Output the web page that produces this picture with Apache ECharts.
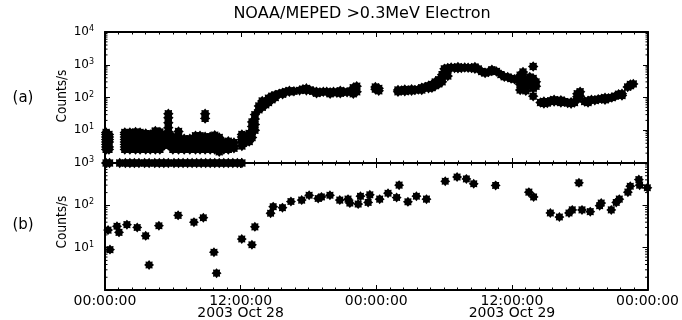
<!DOCTYPE html>
<html><head><meta charset="utf-8">
<script src="https://cdn.jsdelivr.net/npm/echarts@6/dist/echarts.min.js"></script>
<style>html,body{margin:0;padding:0;background:#fff}#c{width:682px;height:320px}</style>
</head><body><div id="c"></div>
<script>
// ---------------- data ----------------
const TITLE = 'NOAA/MEPED >0.3MeV Electron';
const PANEL_LABELS = ['(a)', '(b)'];
const Y_NAME = 'Counts/s';
const xTickHours = [0, 12, 24, 36, 48];
const xTickLabels = ['00:00:00', '12:00:00\n2003 Oct 28', '00:00:00', '12:00:00\n2003 Oct 29', '00:00:00'];

// Panel (a): quiet interval, columns of quantised count rates (hours since 2003-10-28 00:00)
const aQuietTimes = [0.1, 0.35, 1.75, 2.2, 2.7, 3.1, 3.6, 4.0, 4.45, 4.85, 5.25, 5.6, 6.0, 6.5, 7.0, 7.5, 8.0, 8.4, 8.85, 9.3, 9.7, 10.1, 10.5, 10.9, 11.4, 12.1, 12.5];
const aQuietValues = [
  [2.6, 3.1, 3.7, 4.4, 5.2, 6.2, 7.4, 8.5],
  [2.6, 3.1, 4.4, 5.2, 6.2, 7.4],
  [2.6, 3.1, 3.7, 4.4, 5.2, 6.2, 7.4, 8.5],
  [2.6, 3.1, 3.7, 4.4, 5.2, 6.2, 7.4, 8.5],
  [2.6, 3.1, 3.7, 4.4, 5.2, 6.2, 7.4, 8.9],
  [2.6, 3.1, 3.7, 4.4, 5.2, 6.2, 7.4, 8.5],
  [2.6, 3.1, 3.7, 4.4, 5.2, 6.2, 7.4, 7.9],
  [2.6, 3.1, 3.7, 4.4, 5.2, 6.2, 7.4],
  [2.6, 3.1, 3.7, 4.4, 5.2, 6.2, 7.4, 8.8, 9.5],
  [2.6, 3.1, 3.7, 4.4, 5.2, 6.2, 7.4, 8.8],
  [3.5, 4.4, 5.2, 6.2, 7.0],
  [3.5, 4.4, 5.2, 6.2, 7.0, 9, 12, 17, 24, 32],
  [2.6, 3.1, 3.7, 4.4, 5.2, 6.3],
  [2.6, 3.1, 3.7, 4.4, 5.2, 6.3, 9.2],
  [2.6, 3.1, 3.7, 4.4, 5.5],
  [2.6, 3.1, 3.7, 4.4, 5.5],
  [2.6, 3.1, 3.7, 4.4, 5.2, 6.8],
  [2.6, 3.1, 3.7, 4.4, 5.2, 6.8],
  [2.6, 3.1, 3.7, 4.4, 5.2, 6.3, 23, 32],
  [2.6, 3.1, 3.7, 4.4, 5.2, 6.3],
  [2.6, 3.1, 3.7, 4.4, 5.2, 6.2, 7.0],
  [2.2, 2.6, 3.1, 3.7, 4.4, 5.2, 6.0],
  [2.6, 3.1, 3.7, 4.2],
  [2.6, 3.1, 3.7, 4.6],
  [2.8, 3.3, 4.2],
  [3.3, 4.4, 5.2, 6.2, 7.4],
  [4.4, 5.2, 6.6]
];
// Panel (a): readings sitting at the 1 count/s floor
const aFloorTimes = [0.1, 0.4, 1.3, 1.8, 2.2, 2.6, 3.0, 3.5, 3.9, 4.4, 4.8, 5.2, 5.6, 6.1, 6.5, 6.9, 7.3, 7.7, 8.1, 8.5, 8.9, 9.3, 9.7, 10.1, 10.5, 10.9, 11.3, 11.7, 12.1];
const aFloorValue = 1;
// Panel (a): active interval
const aActiveTimes = [12.75, 13.0, 13.25, 13.6, 13.9, 14.2, 14.45, 14.75, 15.05, 15.4, 15.7, 16.0, 16.3, 16.7, 17.2, 17.5, 17.8, 18.1, 18.4, 18.7, 19.0, 19.3, 19.6, 19.9, 20.2, 20.5, 20.8, 21.1, 21.4, 21.7, 21.95, 22.25, 23.9, 24.2, 25.9, 26.2, 26.5, 26.8, 27.1, 27.4, 27.7, 28.0, 28.3, 28.6, 28.9, 29.2, 29.5, 29.8, 30.0, 30.3, 30.6, 30.9, 31.2, 31.5, 31.8, 32.1, 32.4, 32.7, 33.0, 33.3, 33.6, 33.9, 34.2, 34.6, 35.0, 35.3, 35.6, 35.9, 36.2, 36.5, 36.7, 36.95, 37.2, 37.55, 37.85, 38.1, 38.5, 38.8, 39.1, 39.4, 39.7, 40.0, 40.3, 40.6, 40.9, 41.2, 41.5, 41.75, 42.0, 42.4, 42.7, 43.0, 43.3, 43.6, 43.9, 44.2, 44.5, 44.8, 45.1, 45.4, 45.7, 46.2, 46.45, 46.7];
const aActiveValues = [
  [4.5, 6, 8], [6, 9, 13, 18], [10, 15, 22, 30], [42, 55], [50, 65, 78], [60, 75],
  [70, 95], [85, 110], [100, 120], [130], [140, 125], [150], [150, 160], [155],
  [165], [180], [190, 165], [170], [155], [150, 135], [145], [150], [150], [145, 130],
  [150], [140], [160, 135], [150], [145], [155], [200, 160, 130], [220, 150],
  [180, 210], [190, 160],
  [170, 150], [165], [175, 155], [165], [160, 180], [170], [175], [200, 170], [210], [230, 190],
  [250, 200], [300, 230], [350, 260], [300, 400, 500], [600, 750], [800, 700, 450], [820],
  [800], [780, 850], [800], [830], [810], [790], [760, 850], [740], [620], [560], [600],
  [650, 700], [620], [500], [430], [420], [380], [360], [340],
  [170, 250, 350, 480], [200, 300, 420, 600], [160, 220, 280], [250, 330, 420],
  [880, 380, 280, 190, 110], [300, 220],
  [70], [66, 75], [68], [80], [75, 85], [78], [70, 82], [75], [68], [65, 72], [70],
  [130, 105, 90], [150, 110], [75], [80, 70], [85], [82], [88], [92], [98, 85], [95], [100],
  [110], [125], [130, 115], [210], [250, 230], [260]
];

// Panel (b)
const bTimes = [0.27, 0.44, 1.06, 1.24, 1.94, 2.85, 3.6, 3.9, 4.77, 6.47, 7.87, 8.7, 9.64, 9.87, 12.1, 13.0, 13.26, 14.65, 14.88, 15.7, 16.45, 17.4, 18.06, 18.86, 19.15, 19.9, 20.77, 21.5, 21.66, 22.4, 22.6, 23.28, 23.43, 24.3, 25.04, 25.8, 26.02, 26.8, 27.55, 28.44, 30.1, 31.15, 31.97, 32.62, 34.56, 37.5, 37.92, 39.4, 40.2, 41.05, 41.34, 41.93, 42.2, 42.93, 43.76, 43.9, 44.79, 45.23, 45.5, 46.26, 46.47, 47.23, 47.3, 47.98];
const bValues = [26, 9, 32, 23, 35, 30, 19, 3.9, 33, 58, 40, 51, 7.8, 2.5, 16, 11.7, 31, 65, 93, 88, 123, 133, 173, 145, 158, 173, 133, 140, 113, 107, 164, 117, 177, 140, 193, 153, 300, 121, 164, 140, 370, 467, 420, 323, 295, 205, 158, 66, 53, 66, 78, 340, 78, 71, 98, 113, 78, 117, 140, 205, 283, 405, 300, 260];

// ---------------- build ----------------
const FONT = '"DejaVu Sans", "Liberation Sans", sans-serif';
let starPath = '';
for (let k = 0; k < 16; k++) {
  const a = (k * 22.5 - 90) * Math.PI / 180, r = k % 2 === 0 ? 10 : 7.2;
  starPath += (k === 0 ? 'M' : 'L') + (10 + r * Math.cos(a)).toFixed(2) + ' ' + (10 + r * Math.sin(a)).toFixed(2) + ' ';
}
starPath += 'Z';
const STAR = 'path://' + starPath;

const aData = [];
aFloorTimes.forEach(t => aData.push([t, aFloorValue]));
aQuietTimes.forEach((t, i) => aQuietValues[i].forEach(v => aData.push([t, v])));
aActiveTimes.forEach((t, i) => aActiveValues[i].forEach(v => aData.push([t, v])));
const bData = bTimes.map((t, i) => [t, bValues[i]]);

function minorList(maxExp) {
  const out = [];
  for (let e = 0; e < maxExp; e++) for (let m = 2; m <= 9; m++) out.push([0, m * Math.pow(10, e)]);
  return out;
}

function xAxisCfg(gridIndex, position, showLabels) {
  return {
    type: 'value', gridIndex, position, min: 0, max: 48, interval: 12,
    axisLine: { show: true, onZero: false, lineStyle: { color: '#000', width: 2 } },
    axisTick: { show: true, inside: true, length: 5, lineStyle: { color: '#000', width: 1 } },
    minorTick: { show: true, splitNumber: 10, length: 2.5, lineStyle: { color: '#000', width: 1 } },
    splitLine: { show: false }, minorSplitLine: { show: false },
    axisLabel: showLabels ? {
      show: true, color: '#000', fontFamily: FONT, fontSize: 14, lineHeight: 12, margin: 5,
      showMinLabel: true, showMaxLabel: true,
      formatter: v => { const i = xTickHours.indexOf(Math.round(v)); return i >= 0 ? xTickLabels[i] : ''; }
    } : { show: false }
  };
}
function yAxisCfg(gridIndex, position, max, showLabels) {
  return {
    type: 'log', logBase: 10, gridIndex, position, min: 1, max,
    axisLine: { show: true, onZero: false, lineStyle: { color: '#000', width: 2 } },
    axisTick: { show: true, inside: true, length: 5, lineStyle: { color: '#000', width: 1 } },
    splitLine: { show: false },
    axisLabel: showLabels ? {
      show: true, color: '#000', margin: 11, showMinLabel: false, showMaxLabel: true,
      formatter: v => '{b|10}{s|' + Math.round(Math.log10(v)) + '}',
      rich: {
        b: { fontFamily: FONT, fontSize: 12, lineHeight: 14, color: '#000' },
        s: { fontFamily: FONT, fontSize: 8, lineHeight: 8, verticalAlign: 'top', color: '#000' }
      }
    } : { show: false }
  };
}
function minorTickSeries(xIdx, yIdx, maxExp) {
  return {
    type: 'custom', xAxisIndex: xIdx, yAxisIndex: yIdx, silent: true, z: 1,
    data: minorList(maxExp),
    renderItem: (params, api) => {
      const v = api.value(1);
      const p0 = api.coord([0, v]), p1 = api.coord([48, v]);
      return { type: 'group', children: [
        { type: 'line', shape: { x1: p0[0], y1: p0[1], x2: p0[0] + 2.5, y2: p0[1] }, style: { stroke: '#000', lineWidth: 1 } },
        { type: 'line', shape: { x1: p1[0] - 2.5, y1: p1[1], x2: p1[0], y2: p1[1] }, style: { stroke: '#000', lineWidth: 1 } }
      ] };
    }
  };
}

const chart = echarts.init(document.getElementById('c'), null, { renderer: 'canvas' });
chart.setOption({
  animation: false,
  backgroundColor: '#fff',
  grid: [
    { left: 105, right: 34, top: 32, height: 131 },
    { left: 105, right: 34, top: 163, height: 130 }
  ],
  xAxis: [xAxisCfg(0, 'bottom', false), xAxisCfg(0, 'top', false), xAxisCfg(1, 'bottom', true), xAxisCfg(1, 'top', false)],
  yAxis: [yAxisCfg(0, 'left', 10000, true), yAxisCfg(0, 'right', 10000, false), yAxisCfg(1, 'left', 1000, true), yAxisCfg(1, 'right', 1000, false)],
  series: [
    minorTickSeries(0, 0, 4),
    minorTickSeries(2, 2, 3),
    { type: 'scatter', xAxisIndex: 0, yAxisIndex: 0, data: aData, symbol: STAR, symbolSize: 10.5,
      itemStyle: { color: '#000', opacity: 1 }, silent: true, z: 3 },
    { type: 'scatter', xAxisIndex: 2, yAxisIndex: 2, data: bData, symbol: STAR, symbolSize: 10,
      itemStyle: { color: '#000', opacity: 1 }, silent: true, z: 3 }
  ],
  graphic: [
    { type: 'text', x: 362, y: 14, style: { text: TITLE, fontFamily: FONT, fontSize: 16, fill: '#000', align: 'center', verticalAlign: 'middle' } },
    { type: 'text', x: 23, y: 98, style: { text: PANEL_LABELS[0], fontFamily: FONT, fontSize: 15, fill: '#000', align: 'center', verticalAlign: 'middle' } },
    { type: 'text', x: 23, y: 225, style: { text: PANEL_LABELS[1], fontFamily: FONT, fontSize: 15, fill: '#000', align: 'center', verticalAlign: 'middle' } },
    { type: 'text', x: 62, y: 96, rotation: Math.PI / 2, style: { text: Y_NAME, fontFamily: '"Liberation Sans Narrow", "DejaVu Sans Condensed", sans-serif', fontSize: 13.5, fill: '#000', align: 'center', verticalAlign: 'middle' } },
    { type: 'text', x: 62, y: 222, rotation: Math.PI / 2, style: { text: Y_NAME, fontFamily: '"Liberation Sans Narrow", "DejaVu Sans Condensed", sans-serif', fontSize: 13.5, fill: '#000', align: 'center', verticalAlign: 'middle' } }
  ]
});
</script>
</body></html>
